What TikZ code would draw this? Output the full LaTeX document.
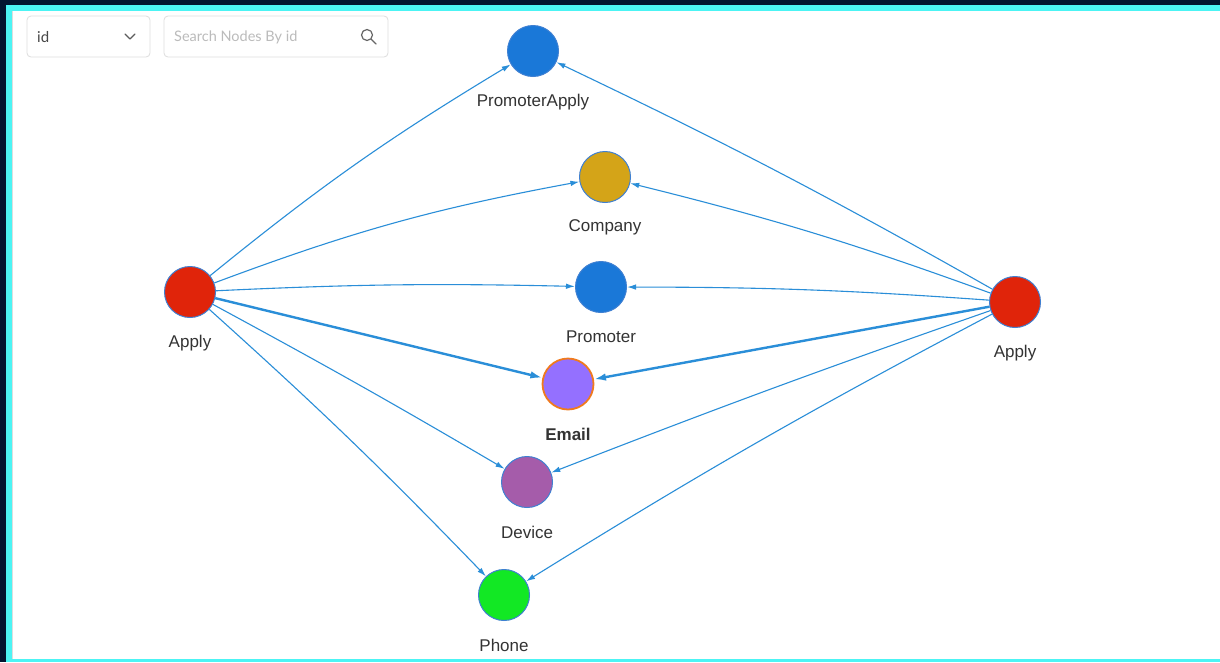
\documentclass[tikz,border=0pt]{standalone}
\usepackage{fontspec}
\setmainfont{Liberation Sans}
\newfontfamily\uifont{Lato}
\usetikzlibrary{arrows.meta}
\definecolor{navy}{HTML}{021530}
\definecolor{frame}{HTML}{4CF4F4}
\definecolor{edgeblue}{HTML}{2A8ED8}
\definecolor{nodeborder}{HTML}{3F80D2}
\definecolor{cblue}{HTML}{1A78D8}
\definecolor{cgold}{HTML}{D4A418}
\definecolor{cemail}{HTML}{9470FF}
\definecolor{corange}{HTML}{F07A1E}
\definecolor{cdevice}{HTML}{A55CAA}
\definecolor{cphone}{HTML}{12E824}
\definecolor{capply}{HTML}{E0240A}
\definecolor{labelgray}{HTML}{333333}
\definecolor{uiborder}{HTML}{DDDDDD}
\definecolor{uigray}{HTML}{BBBBBB}
\tikzset{
  gnode/.style={circle, draw=nodeborder, line width=1pt, minimum size=51pt, inner sep=0pt},
  glabel/.style={text=labelgray, font=\fontsize{17}{19}\selectfont, inner sep=0pt},
  link/.style={draw=edgeblue, line width=1.1pt, -{Latex[length=9pt,width=5.5pt]}},
  thicklink/.style={draw=edgeblue, line width=2.4pt, -{Latex[length=12pt,width=7.5pt]}},
  uibox/.style={draw=uiborder, line width=0.8pt, rounded corners=4pt, fill=white},
}
\begin{document}
\begin{tikzpicture}[x=1pt,y=-1pt]
\useasboundingbox (0,0) rectangle (1220,662);
\fill[navy] (0,0) rectangle (1220,662);
\fill[frame] (6,5) rectangle (1220,662);
\fill[white] (12,11) rectangle (1220,659);
\draw[uiborder, line width=0.8pt] (12.5,11) -- (12.5,659);

% UI controls
\node[uibox, minimum width=123pt, minimum height=41pt] (dropdown) at (88.5,36.5) {};
\node[anchor=west, text=labelgray!90, font=\uifont\fontsize{15}{17}\selectfont, inner sep=0pt] (idtext) at (37,37) {id};
\draw[labelgray!80, line width=1.1pt, line cap=round, line join=round] (125,34) -- (130,39) -- (135,34);
\node[uibox, minimum width=224pt, minimum height=41pt] (search) at (276,36.5) {};
\node[anchor=west, text=uigray, font=\uifont\fontsize{14.5}{17}\selectfont, inner sep=0pt] (placeholder) at (174,37) {Search Nodes By id};
\draw[labelgray!75, line width=1.2pt] (367,35) circle (5.5pt);
\draw[labelgray!75, line width=1.4pt, line cap=round] (371,39) -- (376,44);

% nodes
\node[gnode, fill=cblue] (pa) at (533,51) {};
\node[gnode, fill=cgold] (company) at (605,177) {};
\node[gnode, fill=cblue] (promoter) at (601,287) {};
\node[gnode, fill=cemail, draw=corange, line width=1.8pt] (email) at (568,384) {};
\node[gnode, fill=cdevice] (device) at (527,482) {};
\node[gnode, fill=cphone] (phone) at (504,595) {};
\node[gnode, fill=capply] (applyL) at (190,292) {};
\node[gnode, fill=capply] (applyR) at (1015,302) {};

% labels
\node[glabel] (lpa) at (533,102) {PromoterApply};
\node[glabel] (lcompany) at (605,227) {Company};
\node[glabel] (lpromoter) at (601,337) {Promoter};
\node[glabel, font=\fontsize{17}{19}\selectfont\bfseries] (lemail) at (568,434) {Email};
\node[glabel] (ldevice) at (527,532) {Device};
\node[glabel] (lphone) at (504,645) {Phone};
\node[glabel] (lapplyL) at (190,343) {Apply};
\node[glabel] (lapplyR) at (1015,353) {Apply};

% edges from left Apply
\draw[link] (applyL) to[bend left=4] (pa);
\draw[link] (applyL) to[bend left=5] (company);
\draw[link] (applyL) to[bend left=2] (promoter);
\draw[thicklink] (applyL) -- (email);
\draw[link] (applyL) to[bend left=1] (device);
\draw[link] (applyL) to[bend left=2] (phone);

% edges from right Apply
\draw[link] (applyR) to[bend right=2] (pa);
\draw[link] (applyR) to[bend right=3] (company);
\draw[link] (applyR) to[bend right=2] (promoter);
\draw[thicklink] (applyR) -- (email);
\draw[link] (applyR) to[bend right=1] (device);
\draw[link] (applyR) to[bend right=2] (phone);
\end{tikzpicture}
\end{document}
